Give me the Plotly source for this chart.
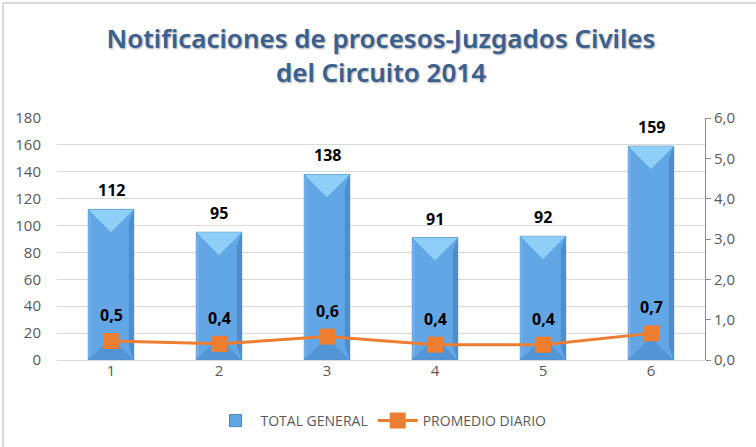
import plotly.graph_objects as go

periodos = [1, 2, 3, 4, 5, 6]
etiquetas_x = ["1", "2", "3", "4", "5", "6"]
total_general = [112, 95, 138, 91, 92, 159]
promedio_diario = [0.47, 0.40, 0.58, 0.38, 0.38, 0.66]
ticks_izq = [0, 20, 40, 60, 80, 100, 120, 140, 160, 180]
ticks_der = [0, 1, 2, 3, 4, 5, 6]

W, H = 756, 447
ML, MR, MT, MB = 57, 51, 118, 87
plot_h = H - MT - MB
plot_w = W - ML - MR
Y1MAX = 180

BAR_W = 0.42
fig = go.Figure()

fig.add_trace(go.Bar(
    x=periodos, y=total_general, width=BAR_W, name="TOTAL GENERAL",
    marker=dict(color="#62A6E6", line=dict(color="#4A84BE", width=1)),
    hoverinfo="skip",
))

# bevel overlays computed from data
def polys(kind):
    xs, ys = [], []
    for x, v in zip(periodos, total_general):
        l, r = x - BAR_W / 2, x + BAR_W / 2
        d = 17  # depth in value units (~half bar width in px)
        if kind == "top":
            pts = [(l, v), (r, v), (x, v - d)]
        elif kind == "bottom":
            pts = [(l, 0), (r, 0), (x, d)]
        elif kind == "right":
            s = 0.045
            pts = [(r - s, d * 0.6), (r, 0), (r, v), (r - s, v - d * 0.6)]
        else:
            s = 0.02
            pts = [(l, 0), (l + s, d * 0.3), (l + s, v - d * 0.3), (l, v)]
        for px_, py_ in pts + [pts[0]]:
            xs.append(px_)
            ys.append(py_)
        xs.append(None)
        ys.append(None)
    return xs, ys

for kind, col in [("bottom", "#5294D4"), ("right", "#4F8DCB"),
                  ("left", "#74B4EC"), ("top", "#8ECFF8")]:
    xs, ys = polys(kind)
    fig.add_trace(go.Scatter(x=xs, y=ys, mode="lines", fill="toself",
                             fillcolor=col, line=dict(width=0),
                             hoverinfo="skip", showlegend=False))

fig.add_trace(go.Scatter(
    x=periodos, y=promedio_diario, yaxis="y2", name="PROMEDIO DIARIO",
    mode="lines+markers",
    line=dict(color="#ED7D31", width=3),
    marker=dict(symbol="square", size=16, color="#ED7D31"),
    hoverinfo="skip",
))

annotations = []
for x, v in zip(periodos, total_general):
    annotations.append(dict(x=x, y=v, xref="x", yref="y", text=f"<b>{v}</b>",
                            showarrow=False, yshift=19,
                            font=dict(family="Open Sans", size=16, color="#000000")))
for x, v in zip(periodos, promedio_diario):
    annotations.append(dict(x=x, y=v, xref="x", yref="y2",
                            text="<b>" + f"{v:.1f}".replace(".", ",") + "</b>",
                            showarrow=False, yshift=26,
                            font=dict(family="Open Sans", size=16, color="#000000")))

tickfont = dict(family="Open Sans", size=15, color="#595959")

fig.update_layout(
    width=W, height=H,
    margin=dict(l=ML, r=MR, t=MT, b=MB, autoexpand=False),
    paper_bgcolor="white", plot_bgcolor="white",
    separators=",.",
    title=dict(
        text="Notificaciones de procesos-Juzgados Civiles<br>del Circuito 2014",
        x=0.5, xanchor="center", xref="paper",
        y=1 - 48 / H, yanchor="middle", yref="container",
        font=dict(family="Noto Sans", size=26, color="#3B5F8E", weight=600,
                  shadow="1px 1px 2px rgba(0,0,0,0.35)"),
    ),
    xaxis=dict(range=[0.5, 6.5], tickvals=periodos, ticktext=etiquetas_x,
               showgrid=False, zeroline=False, showline=False, ticks="",
               automargin=False, tickfont=tickfont),
    yaxis=dict(range=[0, Y1MAX], tickvals=ticks_izq, showgrid=True,
               gridcolor="#D9D9D9", gridwidth=1, zeroline=True,
               zerolinecolor="#D9D9D9", zerolinewidth=1, showline=False,
               ticks="", ticklabelstandoff=15, automargin=False,
               tickfont=tickfont),
    yaxis2=dict(range=[0, 6], tickvals=ticks_der, overlaying="y", side="right",
                tickformat=".1f", showgrid=False, zeroline=False,
                showline=True, linecolor="#8C8C8C", linewidth=1,
                ticks="outside", ticklen=5, tickcolor="#8C8C8C",
                automargin=False, tickfont=tickfont),
    legend=dict(orientation="h", x=0.5, xanchor="center",
                y=-(421 - (H - MB)) / plot_h, yanchor="middle",
                font=dict(family="Open Sans", size=14, color="#595959"),
                traceorder="normal", itemwidth=40),
    annotations=annotations,
    shapes=[
        dict(type="line", xref="paper", yref="paper",
             x0=(3 - ML) / plot_w, x1=(W + 10 - ML) / plot_w,
             y0=(H - MB - 3) / plot_h, y1=(H - MB - 3) / plot_h,
             line=dict(color="#D9D9D9", width=2)),
        dict(type="line", xref="paper", yref="paper",
             x0=(3 - ML) / plot_w, x1=(3 - ML) / plot_w,
             y0=(H - MB - 3) / plot_h, y1=-(MB + 10) / plot_h,
             line=dict(color="#D9D9D9", width=2)),
    ],
)

fig.write_html("out.html", config={"displayModeBar": False},
               post_script="document.body.style.margin='0';document.body.style.overflow='hidden';")
